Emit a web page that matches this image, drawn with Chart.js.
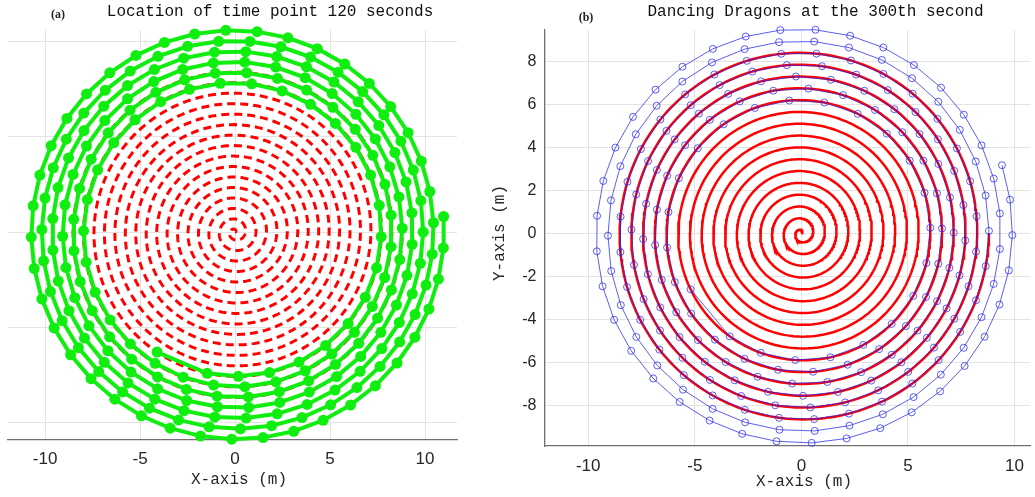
<!DOCTYPE html>
<html><head><meta charset="utf-8">
<script src="https://cdn.jsdelivr.net/npm/chart.js@4"></script>
<style>
html,body{margin:0;padding:0;background:#fff;width:1035px;height:497px;overflow:hidden}
#wl{position:absolute;left:0;top:0;width:480px;height:497px}
#wr{position:absolute;left:480px;top:0;width:555px;height:497px}
</style></head><body>
<div id="wl"><canvas id="cl"></canvas></div>
<div id="wr"><canvas id="cr"></canvas></div>
<script>
// ---- values ----
const panelTitles = ['Location of time point 120 seconds', 'Dancing Dragons at the 300th second'];
const panelTags = ['(a)', '(b)'];
const axisTitles = ['X-axis (m)', 'Y-axis (m)'];
const xTicksA = [-10, -5, 0, 5, 10];
const yGridA = [-10, -5, 0, 5, 10];
const xTicksB = [-10, -5, 0, 5, 10];
const yTicksB = [-8, -6, -4, -2, 0, 2, 4, 6, 8];
const spiralPitch = [0.55];      // metres between neighbouring turns
const spiralTurns = [16];        // turns of the red path
const linkLengths = [2.86, 1.65]; // head link, body links (m)
const benchCount = [223];
const headTurns = [13.658, 10.574]; // head handle position on the spiral (turns) for (a), (b)

// ---- build marks from the spiral definition ----
const a = spiralPitch[0] / (2 * Math.PI);
function P(t) { const r = a * t; return { x: r * Math.cos(t), y: r * Math.sin(t) }; }
function redPath() {
  const out = []; const end = 2 * Math.PI * spiralTurns[0];
  for (let t = 0; t < end; t += 0.03) out.push(P(t));
  out.push(P(end)); return out;
}
function chain(turns) {
  let th = 2 * Math.PI * turns; const pts = [P(th)];
  for (let i = 0; i < benchCount[0]; i++) {
    const L = i === 0 ? linkLengths[0] : linkLengths[1];
    const p0 = P(th); let lo = th, hi = th + Math.PI;
    for (let k = 0; k < 60; k++) {
      const m = (lo + hi) / 2, q = P(m);
      if (Math.hypot(q.x - p0.x, q.y - p0.y) < L) lo = m; else hi = m;
    }
    th = (lo + hi) / 2; pts.push(P(th));
  }
  return pts;
}

const gridCol = '#e3e3e3', axisCol = '#707070', tickCol = '#262626';
const sans = 'Liberation Sans', mono = 'Liberation Mono';

function textPlugin(items) {
  return { id: 'txt', afterDraw(c) {
    const ctx = c.ctx;
    items.forEach(it => {
      ctx.save(); ctx.font = it.font; ctx.fillStyle = it.color || '#000';
      ctx.textAlign = 'center'; ctx.textBaseline = 'middle';
      ctx.translate(it.x, it.y); if (it.rot) ctx.rotate(it.rot);
      ctx.fillText(it.text, 0, 0); ctx.restore();
    });
  } };
}

Chart.defaults.animation = false;

new Chart(document.getElementById('cl'), {
  type: 'scatter',
  data: { datasets: [
    { data: chain(headTurns[0]), showLine: true, borderColor: '#10ee10', backgroundColor: '#10ee10',
      borderWidth: 4, pointRadius: 5.5, pointBorderWidth: 0, pointHoverRadius: 5.5, order: 0, clip: false },
    { data: redPath(), showLine: true, borderColor: '#ff0000', borderWidth: 3, borderDash: [8, 5],
      pointRadius: 0, order: 1 }
  ] },
  options: {
    responsive: true, maintainAspectRatio: false, events: [],
    layout: { padding: { left: 8, right: 23, top: 30, bottom: 0 } },
    plugins: { legend: { display: false }, tooltip: { enabled: false } },
    scales: {
      x: { type: 'linear', min: -11.95, max: 11.68,
        afterBuildTicks: s => { s.ticks = xTicksA.map(v => ({ value: v })); },
        afterFit: s => { s.height = 57; },
        ticks: { font: { family: sans, size: 17 }, color: tickCol, padding: 9, maxRotation: 0, autoSkip: false },
        grid: { color: gridCol, drawTicks: false }, border: { display: true, color: axisCol, width: 1.3 } },
      y: { type: 'linear', min: -10.9, max: 10.6,
        afterBuildTicks: s => { s.ticks = yGridA.map(v => ({ value: v })); },
        afterFit: s => { s.width = 0; },
        ticks: { display: false },
        grid: { color: gridCol, drawTicks: false }, border: { display: false } }
    }
  },
  plugins: [textPlugin([
    { text: panelTitles[0], x: 270, y: 12, font: '16px "' + mono + '"', color: '#111' },
    { text: panelTags[0], x: 58, y: 15, font: 'bold 12px "Liberation Serif"', color: '#222' },
    { text: axisTitles[0], x: 239, y: 480, font: '16px "' + mono + '"', color: tickCol }
  ])]
});

new Chart(document.getElementById('cr'), {
  type: 'scatter',
  data: { datasets: [
    { data: chain(headTurns[1]), showLine: true, borderColor: 'rgba(40,40,235,0.75)', backgroundColor: 'rgba(0,0,0,0)',
      borderWidth: 1, pointRadius: 3.5, pointBorderWidth: 1, pointBorderColor: 'rgba(40,40,235,0.75)',
      pointHoverRadius: 3.5, order: 0, clip: false },
    { data: redPath(), showLine: true, borderColor: '#ff0000', borderWidth: 2.5, pointRadius: 0, order: 1 }
  ] },
  options: {
    responsive: true, maintainAspectRatio: false, events: [],
    layout: { padding: { left: 0, right: 2, top: 30, bottom: 0 } },
    plugins: { legend: { display: false }, tooltip: { enabled: false } },
    scales: {
      x: { type: 'linear', min: -12.05, max: 10.75,
        afterBuildTicks: s => { s.ticks = xTicksB.map(v => ({ value: v })); },
        afterFit: s => { s.height = 51; },
        ticks: { font: { family: sans, size: 17 }, color: tickCol, padding: 10, maxRotation: 0, autoSkip: false },
        grid: { color: gridCol, drawTicks: false }, border: { display: true, color: axisCol, width: 1.3 } },
      y: { type: 'linear', min: -9.9, max: 9.45,
        afterBuildTicks: s => { s.ticks = yTicksB.map(v => ({ value: v })); },
        afterFit: s => { s.width = 64.5; },
        ticks: { font: { family: sans, size: 16 }, color: tickCol, padding: 8 },
        grid: { color: gridCol, drawTicks: false }, border: { display: true, color: axisCol, width: 1.3 } }
    }
  },
  plugins: [textPlugin([
    { text: panelTitles[1], x: 335.5, y: 12, font: '16px "' + mono + '"', color: '#111' },
    { text: panelTags[1], x: 106, y: 18, font: 'bold 12px "Liberation Serif"', color: '#222' },
    { text: axisTitles[0], x: 324, y: 482, font: '16px "' + mono + '"', color: tickCol },
    { text: axisTitles[1], x: 20, y: 233, rot: -Math.PI / 2, font: '16px "' + mono + '"', color: tickCol }
  ])]
});
</script>
</body></html>
